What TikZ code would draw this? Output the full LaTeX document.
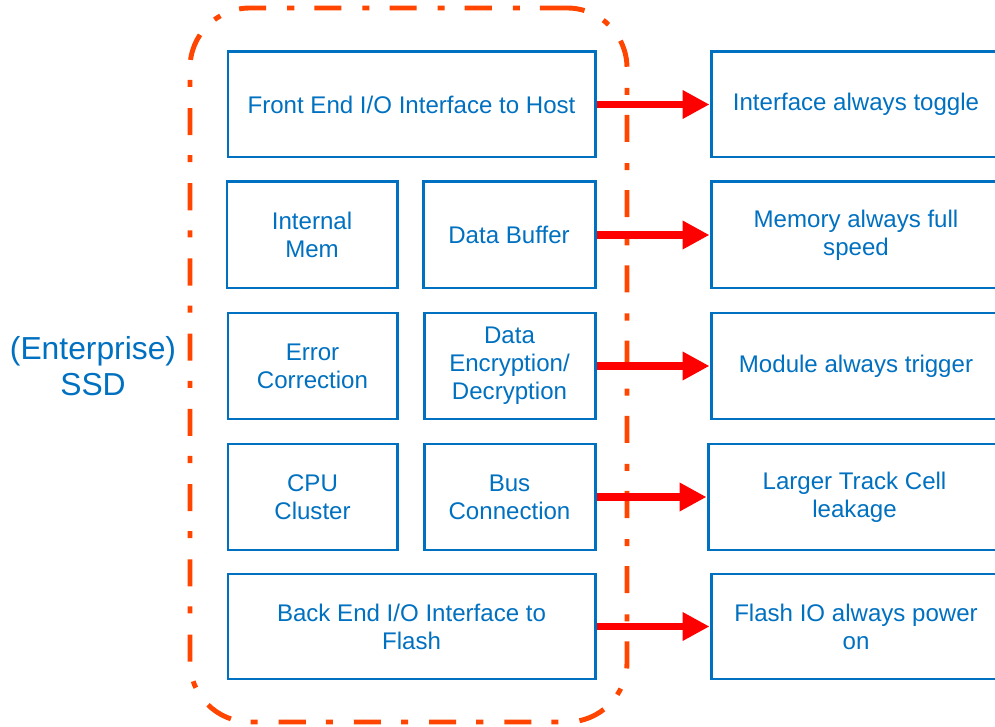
\documentclass[tikz,border=0pt]{standalone}
\usepackage{fontspec}
\setmainfont{Liberation Sans}
\usetikzlibrary{arrows.meta, positioning}
\definecolor{ssdBlue}{HTML}{0070C0}
\definecolor{ssdOrange}{HTML}{FF4500}
\definecolor{ssdRed}{HTML}{FF0000}

\begin{document}
\begin{tikzpicture}[
  font=\fontsize{13.7}{15.9}\selectfont,
  blk/.style={draw=ssdBlue, line width=1.7pt, text=ssdBlue, align=center,
              inner sep=0pt, minimum height=2.1cm},
  wide/.style={blk, minimum width=7.34cm},
  half/.style={blk, minimum width=3.42cm, minimum height=2.12cm},
  res/.style={blk, minimum width=5.8cm},
  arr/.style={-{Triangle[length=5.4mm, width=5.4mm]}, line width=4.5pt, draw=ssdRed},
  enc/.style={draw=ssdOrange, line width=2.8pt, rounded corners=1.2cm,
              dash pattern=on 15.4pt off 11.4pt on 4pt off 12pt}
]
\useasboundingbox (0,0) rectangle (19.9,14.52);

% enterprise SSD outline
\node[enc, minimum width=8.74cm, minimum height=14.28cm] (ssd) at (8.17,7.22) {};
\node[text=ssdBlue, align=center, font=\fontsize{18.1}{20.5}\selectfont] (label) at (1.86,7.2)
  {(Enterprise)\\SSD};

% blocks inside the SSD
\node[wide] (front) at (8.23,12.43) {Front End I/O Interface to Host};
\node[half, minimum width=3.4cm] (mem) at (6.24,9.82) {Internal\\Mem};
\node[half, minimum width=3.44cm] (buffer) at (10.18,9.82) {Data Buffer};
\node[half, minimum width=3.38cm] (ecc) at (6.25,7.2) {Error\\Correction};
\node[half] (crypt) at (10.19,7.2) {Data\\Encryption/\\Decryption};
\node[half, minimum width=3.38cm] (cpu) at (6.25,4.58) {CPU\\Cluster};
\node[half] (bus) at (10.19,4.58) {Bus\\Connection};
\node[wide] (back) at (8.23,1.99) {Back End I/O Interface to\\Flash};

% effects
\node[res] (toggle) at (17.12,12.43) {Interface always toggle};
\node[res, minimum height=2.12cm] (speed) at (17.12,9.82) {Memory always full\\speed};
\node[res, minimum height=2.12cm] (trigger) at (17.12,7.2) {Module always trigger};
\node[res, minimum height=2.12cm, minimum width=5.86cm] (leak) at (17.09,4.58) {Larger Track Cell\\leakage};
\node[res] (power) at (17.12,1.99) {Flash IO always power\\on};

\draw[arr] (front) -- (toggle);
\draw[arr] (buffer) -- (speed);
\draw[arr] (crypt) -- (trigger);
\draw[arr] (bus) -- (leak);
\draw[arr] (back) -- (power);
\end{tikzpicture}
\end{document}
